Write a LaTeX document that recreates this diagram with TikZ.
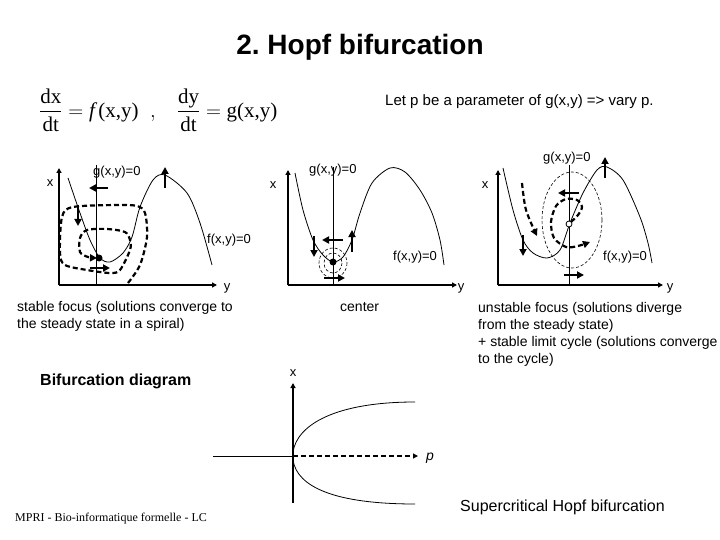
\documentclass[tikz,border=0pt]{standalone}
\usepackage{amsmath}
\usepackage{fontspec}
\setmainfont{Liberation Sans}
\newfontfamily\timesfont{Liberation Serif}
\usetikzlibrary{arrows.meta}
\tikzset{
  axis/.style={line width=2.6pt,-{Triangle[length=5pt,width=5pt]}},
  flow/.style={line width=2.6pt,-{Triangle[length=7pt,width=7pt]}},
  traj/.style={line width=2.2pt,dash pattern=on 5pt off 3pt},
  orbit/.style={line width=0.6pt,dash pattern=on 3pt off 2pt},
  lbl/.style={inner sep=0pt,font=\fontsize{13}{15}\selectfont},
  txt/.style={inner sep=0pt,anchor=north west,align=left,font=\fontsize{14}{17}\selectfont},
}
\begin{document}
\begin{tikzpicture}[x=1pt,y=-1pt]
\useasboundingbox (0,0) rectangle (720,540);
\node[inner sep=0pt,font=\fontsize{28}{32}\selectfont\bfseries\frenchspacing] (title) at (360,47) {2. Hopf bifurcation};
\node[inner sep=0pt,anchor=west,font=\fontsize{21}{25}\selectfont] (eq) at (39,110)
  {$\dfrac{\hbox{\timesfont dx}}{\hbox{\timesfont dt}}=\hbox{\timesfont\itshape f}\,\hbox{\timesfont(x,y)}\ \ ,\ \ \ \dfrac{\hbox{\timesfont dy}}{\hbox{\timesfont dt}}=\hbox{\timesfont g(x,y)}$};
\node[inner sep=0pt,anchor=west,font=\fontsize{15}{18}\selectfont] (param) at (385,102) {Let p be a parameter of g(x,y) => vary p.};
% axes and g nullclines of the three phase planes
\foreach \ox/\ya/\xb/\gx/\gy in {59/168/217/96/165, 288/170/457/333/167, 498/170/663/569/165} {
  \draw[axis] (\ox,285) -- (\ox,\ya);
  \draw[axis] (\ox,285) -- (\xb,285);
  \draw[line width=0.8pt] (\gx,\gy) -- (\gx,285);
}
% stable focus
\node[lbl] (xa) at (50,183) {x};
\node[lbl] (ya) at (227,288) {y};
\node[lbl,anchor=west] (ga) at (93,172) {g(x,y)=0};
\node[lbl,anchor=west] (fa) at (207,240) {f(x,y)=0};
\draw[line width=0.8pt] plot[smooth] coordinates {(68,178) (80,213) (90,240) (100,258) (110,262) (123,253) (132,237) (140,207) (153,180) (165,175) (187,193) (200,223) (212,265)};
\draw[traj,-{Triangle[length=7pt,width=7pt]}] plot[smooth] coordinates {(128,283) (140,265) (147,237) (145,213) (137,206) (117,205) (73,207) (62,217) (60,253) (65,265) (87,270) (110,273) (120,270) (130,250) (130,240) (125,232) (107,229) (87,230) (80,238) (80,252) (88,257) (97,258)};
\fill (99,258) circle (3.5pt);
\draw[flow] (108,188) -- (89,188);
\draw[flow] (90,268) -- (110,268);
\draw[flow] (78,205) -- (78,226);
\draw[flow] (165,188) -- (165,167);
% center
\node[lbl] (xb) at (273,185) {x};
\node[lbl] (yb) at (461,288) {y};
\node[lbl,anchor=west] (gb) at (309,170) {g(x,y)=0};
\node[lbl,anchor=west] (fb) at (393,257) {f(x,y)=0};
\draw[line width=0.8pt] plot[smooth] coordinates {(295,173) (303,210) (313,240) (323,255) (333,262) (343,257) (352,240) (360,213) (372,183) (390,168) (405,172) (420,190) (432,213) (440,240) (444,265)};
\draw[orbit] (333,263) ellipse (14 and 15);
\draw[orbit] (333,263) ellipse (9 and 10);
\fill (333,262) circle (3.5pt);
\draw[flow] (343,240) -- (322,240);
\draw[flow] (324,278) -- (345,278);
\draw[flow] (314,236) -- (314,257);
\draw[flow] (352,252) -- (352,230);
% unstable focus and limit cycle
\node[lbl] (xc) at (485,185) {x};
\node[lbl] (yc) at (670,288) {y};
\node[lbl,anchor=west] (gc) at (543,158) {g(x,y)=0};
\node[lbl,anchor=west] (fc) at (603,257) {f(x,y)=0};
\draw[line width=0.8pt] plot[smooth] coordinates {(503,168) (513,210) (523,240) (533,253) (547,258) (560,250) (570,223) (583,193) (597,170) (607,167) (623,180) (640,217) (648,243) (652,263)};
\draw[orbit] (572,220) ellipse (30 and 48);
\draw[traj,-{Triangle[length=7pt,width=7pt]}] plot[smooth] coordinates {(571,222) (578,215) (582,207) (577,200) (566,199) (556,206) (551,222) (554,238) (566,247) (578,246) (590,242)};
\draw[traj,-{Triangle[length=7pt,width=7pt]}] plot[smooth] coordinates {(522,183) (526,210) (537,236)};
\filldraw[fill=white,line width=0.8pt] (569,224) circle (3pt);
\draw[flow] (579,193) -- (558,193);
\draw[flow] (564,275) -- (584,275);
\draw[flow] (523,235) -- (523,256);
\draw[flow] (605,178) -- (605,157);
% captions
\node[txt] (stable) at (17,301) {stable focus (solutions converge to\\the steady state in a spiral)};
\node[txt] (center) at (340,302) {center};
\node[txt] (unstable) at (478,302) {unstable focus (solutions diverge\\from the steady state)\\+ stable limit cycle (solutions converge\\to the cycle)};
% bifurcation diagram
\node[inner sep=0pt,anchor=west,font=\fontsize{16}{19}\selectfont\bfseries] (bif) at (40,381) {Bifurcation diagram};
\draw[axis] (293,503) -- (293,383);
\node[lbl] (xd) at (293,373) {x};
\draw[line width=0.8pt] (213,456) -- (293,456);
\draw[traj,-{Triangle[length=5pt,width=5pt]}] (293,456) -- (418,456);
\node[lbl,font=\fontsize{14}{16}\selectfont\itshape] (p) at (430,458) {p};
\draw[line width=0.8pt] (293,452) .. controls (297,425) and (335,402) .. (415,402);
\draw[line width=0.8pt] (293,460) .. controls (297,487) and (335,504) .. (415,504);
\node[inner sep=0pt,anchor=west,font=\fontsize{16}{19}\selectfont] (super) at (460,507) {Supercritical Hopf bifurcation};
\node[inner sep=0pt,anchor=west,font=\fontsize{12}{14}\selectfont\timesfont] (footer) at (15,519) {MPRI - Bio-informatique formelle - LC};
\end{tikzpicture}
\end{document}
